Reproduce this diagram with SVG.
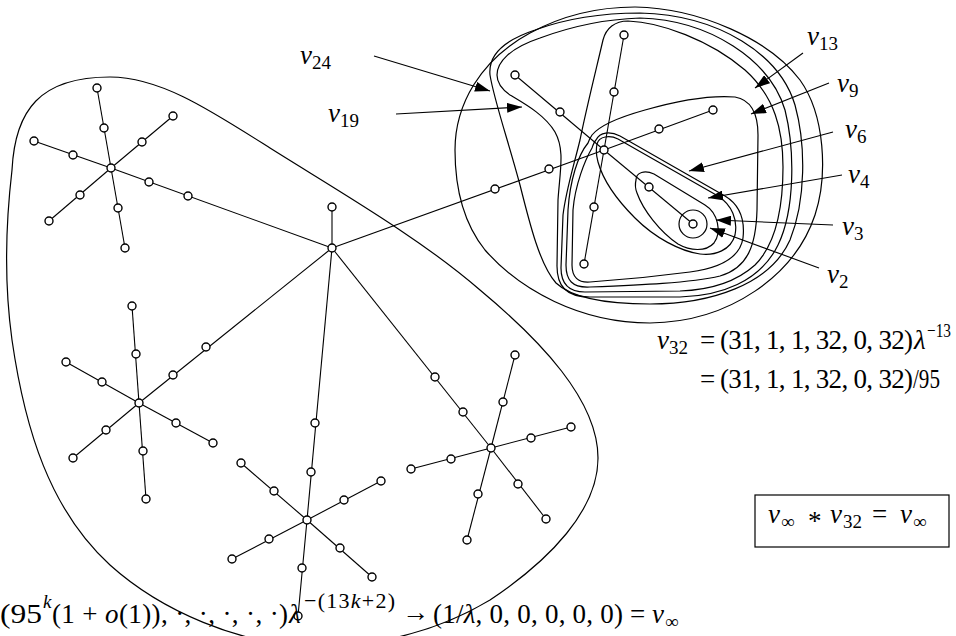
<svg xmlns="http://www.w3.org/2000/svg" width="956" height="636" viewBox="0 0 956 636" font-family="'Liberation Serif', 'Times New Roman', serif">
<defs>
<style>
.e{stroke:#000;stroke-width:1.1;fill:none}
.c{stroke:#000;stroke-width:1.2;fill:none}
.n{fill:#fff;stroke:#000;stroke-width:1.4}
.a{stroke:#000;stroke-width:1.1;fill:none;marker-end:url(#ah)}
text{font-family:"Liberation Serif","Times New Roman",serif;font-size:27px;fill:#000}
.i{font-style:italic}
.s{font-size:19px}
</style>
<marker id="ah" markerWidth="16" markerHeight="10" refX="15" refY="5" orient="auto" markerUnits="userSpaceOnUse"><path d="M0,0 L15,5 L0,10 Z" fill="#000"/></marker>
</defs>
<rect width="956" height="636" fill="#fff"/>

<g id="regions">
<path id="blob" class="c" d="M110,77 C160,77 210,110 270,148 C340,192 420,238 480,290 C540,340 598,400 598,458 C598,510 550,560 490,600 C440,630 380,646 316,646 C240,646 160,610 110,565 C50,510 25,430 12,340 C5,290 5,230 12,170 C15,110 40,77 110,77 Z"/>
<path id="outer" class="c" d="M455,150 C455,105 480,60 530,33 C565,14 600,7 635,7 C700,8 770,40 800,80 C825,115 828,175 815,215 C795,275 730,322 650,323 C580,323 520,290 485,250 C465,225 455,190 455,150 Z"/>
<path id="c24" class="c" d="M490,75 C488,55 505,40 535,30 C565,19 600,13 640,13 C720,15 780,55 795,105 C806,145 806,200 790,240 C770,285 710,304 650,304 C605,304 572,298 556,283 C540,265 530,225 520,185 C508,140 494,100 490,75 Z"/>
<path id="c19" class="c" d="M497,75 C497,62 510,48 540,38 C575,25 610,19 640,18 C710,20 770,60 785,110 C795,150 795,210 778,245 C760,282 720,296 680,297 L590,297 C566,297 557,286 557,266 L558,200 C560,170 565,150 555,132 C545,115 525,104 510,95 C500,88 497,82 497,75 Z"/>
<path id="c13" class="c" d="M603,40 C606,28 615,21 628,21 C660,22 710,40 745,70 C775,97 783,130 783,167 C783,210 775,245 755,265 C735,283 710,290 680,291 L585,292 C568,292 561,283 561,268 L563,215 C566,190 574,165 580,140 C586,110 596,70 603,40 Z"/>
<path id="c9" class="c" d="M592,135 C600,125 620,117 645,110 C680,100 710,95 735,97 C752,100 758,115 758,135 L757,210 C756,245 748,268 720,276 C690,283 640,285 590,287 C572,288 566,280 566,265 L568,210 C570,180 578,155 588,143 C589,140 590,138 592,135 Z"/>
<path id="c6" class="c" d="M596,140 C600,132 610,131 620,136 L725,196 C740,205 745,220 743,238 C740,258 720,268 690,272 C660,276 620,280 590,282 C578,283 572,277 572,265 L573,210 C575,185 585,160 592,148 C593,145 594,142 596,140 Z"/>
<path id="c4" class="c" d="M597,144 C599,136 610,135 618,139 L718,196 C732,205 738,220 735,235 C731,250 715,256 700,254 C680,251 655,238 635,218 C615,198 603,180 598,162 C596,155 596,149 597,144 Z"/>
<path id="c3" class="c" d="M636,180 C636,172 645,170 654,174 L705,205 C718,213 722,232 714,243 C706,252 690,251 678,244 C660,232 643,210 637,193 C635,188 635,184 636,180 Z"/>
<circle id="c2" class="c" cx="693" cy="224" r="14"/>
</g>

<g id="connectors">
<line class="e" x1="332" y1="248" x2="332" y2="207"/>
<line class="e" x1="332" y1="248" x2="604" y2="150"/>
<line class="e" x1="332" y1="248" x2="111" y2="168"/>
<line class="e" x1="332" y1="248" x2="139" y2="403"/>
<line class="e" x1="332" y1="248" x2="307" y2="520"/>
<line class="e" x1="332" y1="248" x2="491" y2="448"/>
<line class="e" x1="111" y1="168" x2="97" y2="88"/>
<line class="e" x1="111" y1="168" x2="125" y2="248"/>
<line class="e" x1="111" y1="168" x2="173" y2="116"/>
<line class="e" x1="111" y1="168" x2="49" y2="221"/>
<line class="e" x1="111" y1="168" x2="34" y2="141"/>
<line class="e" x1="139" y1="403" x2="132" y2="306"/>
<line class="e" x1="139" y1="403" x2="146" y2="499"/>
<line class="e" x1="139" y1="403" x2="66" y2="362"/>
<line class="e" x1="139" y1="403" x2="73" y2="458"/>
<line class="e" x1="139" y1="403" x2="213" y2="443"/>
<line class="e" x1="307" y1="520" x2="298" y2="616"/>
<line class="e" x1="307" y1="520" x2="241" y2="463"/>
<line class="e" x1="307" y1="520" x2="232" y2="559"/>
<line class="e" x1="307" y1="520" x2="381" y2="481"/>
<line class="e" x1="307" y1="520" x2="372" y2="577"/>
<line class="e" x1="491" y1="448" x2="515" y2="355"/>
<line class="e" x1="491" y1="448" x2="411" y2="469"/>
<line class="e" x1="491" y1="448" x2="571" y2="427"/>
<line class="e" x1="491" y1="448" x2="467" y2="540"/>
<line class="e" x1="491" y1="448" x2="546" y2="519"/>
<line class="e" x1="604" y1="150" x2="624" y2="35"/>
<line class="e" x1="604" y1="150" x2="584" y2="264"/>
<line class="e" x1="604" y1="150" x2="515" y2="75"/>
<line class="e" x1="604" y1="150" x2="713" y2="110"/>
<line class="e" x1="604" y1="150" x2="693" y2="224"/>
<line class="a" x1="374" y1="56" x2="490" y2="91"/>
<line class="a" x1="396" y1="114" x2="522" y2="107"/>
<line class="a" x1="803" y1="53" x2="755" y2="88"/>
<line class="a" x1="829" y1="83" x2="751" y2="114"/>
<line class="a" x1="833" y1="132" x2="689" y2="171"/>
<line class="a" x1="842" y1="175" x2="708" y2="198"/>
<line class="a" x1="833" y1="225" x2="716" y2="220"/>
<line class="a" x1="819" y1="268" x2="710" y2="228"/>
</g>

<g id="nodes">
<g id="m"><circle class="n" cx="332" cy="248" r="4"/></g>
<g id="m1"><circle class="n" cx="332" cy="207" r="4"/></g>
<g id="s1"><circle class="n" cx="111" cy="168" r="4"/></g>
<g id="s1a"><circle class="n" cx="104" cy="128" r="4"/></g>
<g id="s1b"><circle class="n" cx="97" cy="88" r="4"/></g>
<g id="s1c"><circle class="n" cx="118" cy="208" r="4"/></g>
<g id="s1d"><circle class="n" cx="125" cy="248" r="4"/></g>
<g id="s1e"><circle class="n" cx="142" cy="142" r="4"/></g>
<g id="s1f"><circle class="n" cx="173" cy="116" r="4"/></g>
<g id="s1g"><circle class="n" cx="80" cy="195" r="4"/></g>
<g id="s1h"><circle class="n" cx="49" cy="221" r="4"/></g>
<g id="s1i"><circle class="n" cx="73" cy="155" r="4"/></g>
<g id="s1j"><circle class="n" cx="34" cy="141" r="4"/></g>
<g id="s1k"><circle class="n" cx="149" cy="182" r="4"/></g>
<g id="s1l"><circle class="n" cx="188" cy="196" r="4"/></g>
<g id="s2"><circle class="n" cx="139" cy="403" r="4"/></g>
<g id="s2a"><circle class="n" cx="136" cy="354" r="4"/></g>
<g id="s2b"><circle class="n" cx="132" cy="306" r="4"/></g>
<g id="s2c"><circle class="n" cx="143" cy="451" r="4"/></g>
<g id="s2d"><circle class="n" cx="146" cy="499" r="4"/></g>
<g id="s2e"><circle class="n" cx="102" cy="382" r="4"/></g>
<g id="s2f"><circle class="n" cx="66" cy="362" r="4"/></g>
<g id="s2g"><circle class="n" cx="106" cy="430" r="4"/></g>
<g id="s2h"><circle class="n" cx="73" cy="458" r="4"/></g>
<g id="s2i"><circle class="n" cx="176" cy="423" r="4"/></g>
<g id="s2j"><circle class="n" cx="213" cy="443" r="4"/></g>
<g id="s2k"><circle class="n" cx="173" cy="375" r="4"/></g>
<g id="s2l"><circle class="n" cx="206" cy="347" r="4"/></g>
<g id="s3"><circle class="n" cx="307" cy="520" r="4"/></g>
<g id="s3a"><circle class="n" cx="311" cy="472" r="4"/></g>
<g id="s3b"><circle class="n" cx="315" cy="423" r="4"/></g>
<g id="s3c"><circle class="n" cx="302" cy="568" r="4"/></g>
<g id="s3d"><circle class="n" cx="298" cy="616" r="4"/></g>
<g id="s3e"><circle class="n" cx="274" cy="491" r="4"/></g>
<g id="s3f"><circle class="n" cx="241" cy="463" r="4"/></g>
<g id="s3g"><circle class="n" cx="269" cy="539" r="4"/></g>
<g id="s3h"><circle class="n" cx="232" cy="559" r="4"/></g>
<g id="s3i"><circle class="n" cx="344" cy="500" r="4"/></g>
<g id="s3j"><circle class="n" cx="381" cy="481" r="4"/></g>
<g id="s3k"><circle class="n" cx="340" cy="548" r="4"/></g>
<g id="s3l"><circle class="n" cx="372" cy="577" r="4"/></g>
<g id="s4"><circle class="n" cx="491" cy="448" r="4"/></g>
<g id="s4a"><circle class="n" cx="463" cy="412" r="4"/></g>
<g id="s4b"><circle class="n" cx="435" cy="377" r="4"/></g>
<g id="s4c"><circle class="n" cx="503" cy="402" r="4"/></g>
<g id="s4d"><circle class="n" cx="515" cy="355" r="4"/></g>
<g id="s4e"><circle class="n" cx="451" cy="459" r="4"/></g>
<g id="s4f"><circle class="n" cx="411" cy="469" r="4"/></g>
<g id="s4g"><circle class="n" cx="531" cy="438" r="4"/></g>
<g id="s4h"><circle class="n" cx="571" cy="427" r="4"/></g>
<g id="s4i"><circle class="n" cx="478" cy="494" r="4"/></g>
<g id="s4j"><circle class="n" cx="467" cy="540" r="4"/></g>
<g id="s4k"><circle class="n" cx="518" cy="484" r="4"/></g>
<g id="s4l"><circle class="n" cx="546" cy="519" r="4"/></g>
<g id="h"><circle class="n" cx="604" cy="150" r="4"/></g>
<g id="ha"><circle class="n" cx="614" cy="92" r="4"/></g>
<g id="hb"><circle class="n" cx="624" cy="35" r="4"/></g>
<g id="hc"><circle class="n" cx="594" cy="207" r="4"/></g>
<g id="hd"><circle class="n" cx="584" cy="264" r="4"/></g>
<g id="he"><circle class="n" cx="560" cy="112" r="4"/></g>
<g id="hf"><circle class="n" cx="515" cy="75" r="4"/></g>
<g id="hg"><circle class="n" cx="659" cy="129" r="4"/></g>
<g id="hh"><circle class="n" cx="713" cy="110" r="4"/></g>
<g id="hi"><circle class="n" cx="649" cy="187" r="4"/></g>
<g id="hj"><circle class="n" cx="693" cy="224" r="4"/></g>
<g id="hk"><circle class="n" cx="549" cy="169" r="4"/></g>
<g id="hl"><circle class="n" cx="495" cy="189" r="4"/></g>
</g>

<g id="labels">
<text x="300" y="64"><tspan class="i">v</tspan><tspan class="s" dy="5">24</tspan></text>
<text x="328" y="122"><tspan class="i">v</tspan><tspan class="s" dy="5">19</tspan></text>
<text x="807" y="45"><tspan class="i">v</tspan><tspan class="s" dy="5">13</tspan></text>
<text x="837" y="92"><tspan class="i">v</tspan><tspan class="s" dy="5">9</tspan></text>
<text x="845" y="138"><tspan class="i">v</tspan><tspan class="s" dy="5">6</tspan></text>
<text x="848" y="183"><tspan class="i">v</tspan><tspan class="s" dy="5">4</tspan></text>
<text x="842" y="235"><tspan class="i">v</tspan><tspan class="s" dy="5">3</tspan></text>
<text x="827" y="283"><tspan class="i">v</tspan><tspan class="s" dy="5">2</tspan></text>
</g>

<g id="eq32">
<text x="657" y="349"><tspan class="i">v</tspan><tspan class="s" dy="5">32</tspan></text>
<text x="700" y="349">=</text>
<text x="720" y="349" textLength="193" lengthAdjust="spacing">(31, 1, 1, 32, 0, 32)</text>
<text x="914" y="349" class="i">λ</text>
<text x="927" y="337" class="s" textLength="24" lengthAdjust="spacingAndGlyphs">−13</text>
<text x="700" y="388">=</text>
<text x="720" y="388" textLength="193" lengthAdjust="spacing">(31, 1, 1, 32, 0, 32)</text>
<text x="913" y="388" textLength="27" lengthAdjust="spacingAndGlyphs">/95</text>
</g>

<g id="box">
<rect x="755" y="495" width="194" height="52" fill="none" stroke="#000" stroke-width="1.2"/>
<text x="768" y="523" class="i">v</text><text x="781" y="528" class="s">∞</text>
<text x="808" y="530">*</text>
<text x="830" y="523" class="i">v</text><text x="843" y="528" class="s">32</text>
<text x="872" y="523">=</text>
<text x="900" y="523" class="i">v</text><text x="913" y="528" class="s">∞</text>
</g>

<g id="formula">
<text x="0" y="623" textLength="42" lengthAdjust="spacingAndGlyphs">(95</text>
<text x="43" y="608" class="s i">k</text>
<text x="52" y="623" textLength="236" lengthAdjust="spacing">(1 + <tspan class="i">o</tspan>(1)), ·, ·, ·, ·, ·)</text>
<text x="289" y="623" class="i">λ</text>
<text x="304" y="608" style="font-size:22px" textLength="91" lengthAdjust="spacing">−(13<tspan class="i">k</tspan>+2)</text>
<text x="402" y="621" textLength="27" lengthAdjust="spacingAndGlyphs">→</text>
<text x="433" y="623" textLength="190" lengthAdjust="spacing">(1/<tspan class="i">λ</tspan>, 0, 0, 0, 0, 0)</text>
<text x="630" y="623">=</text>
<text x="652" y="623" class="i">v</text><text x="665" y="628" class="s">∞</text>
</g>
</svg>
